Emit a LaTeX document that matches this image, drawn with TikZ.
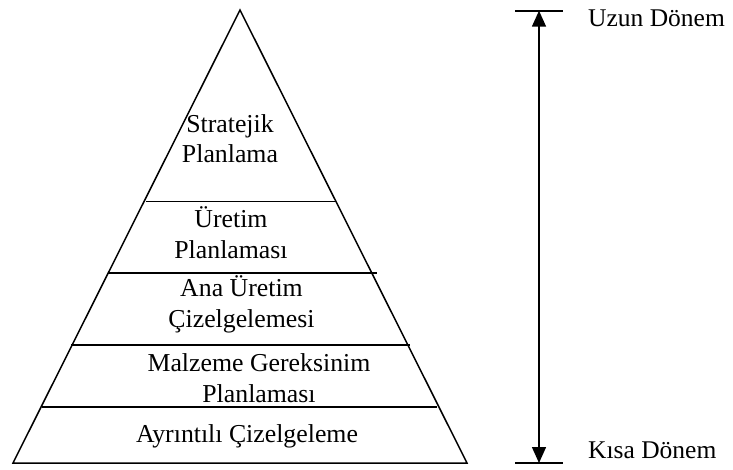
\documentclass[tikz,border=0pt]{standalone}
\usepackage{fontspec}
\setmainfont{Liberation Serif}
\usetikzlibrary{arrows.meta}
\usetikzlibrary{calc}
\tikzset{level label/.style={anchor=base,align=center,inner sep=0,font=\fontsize{25.8}{30.5}\selectfont}}
\tikzset{period label/.style={anchor=base west,inner sep=0,font=\fontsize{25.5}{30.5}\selectfont}}
\tikzset{span arrow/.style={line width=1.5pt,{Triangle[length=16pt,width=14pt]}-{Triangle[length=16pt,width=14pt]}}}

\begin{document}
\begin{tikzpicture}[x=1pt,y=1pt]

            \useasboundingbox (0,0) rectangle (733,469);

            \def \apexPoint{(240,459)}
            \def \baseLeftPoint{(13,6)}
            \def \baseRightPoint{(467,6)}

            \draw[line width=1.5pt, line join=miter] \apexPoint -- \baseRightPoint -- \baseLeftPoint -- cycle;
            \draw[line width=1.8pt] (146,267.5) -- (336,267.5);
            \draw[line width=1.8pt] (108,196) -- (377,196);
            \draw[line width=1.8pt] (71,124) -- (410,124);
            \draw[line width=1.8pt] (42,62) -- (437,62);

            % anchor base sits on the last line
            \node[level label] (strategic) at (230,306) {Stratejik\\Planlama};
            \node[level label] (production) at (231,211) {Üretim\\Planlaması};
            \node[level label] (master) at (241.5,142) {Ana Üretim\\Çizelgelemesi};
            \node[level label] (material) at (259,67) {Malzeme Gereksinim\\Planlaması};
            \node[level label] (detailed) at (247,27) {Ayrıntılı Çizelgeleme};

            \coordinate (longEnd) at (539,458.3);
            \coordinate (shortEnd) at (539,6);
            \draw[line width=1.8pt] ($(longEnd)+(-24,0)$) -- ($(longEnd)+(24,0)$);
            \draw[line width=1.8pt] ($(shortEnd)+(-24,0)$) -- ($(shortEnd)+(24,0)$);
            \draw[span arrow] (longEnd) -- (shortEnd);

            \node[period label] (long) at (588,442) {Uzun Dönem};
            \node[period label] (short) at (588,11) {Kısa Dönem};

          \end{tikzpicture}
\end{document}
